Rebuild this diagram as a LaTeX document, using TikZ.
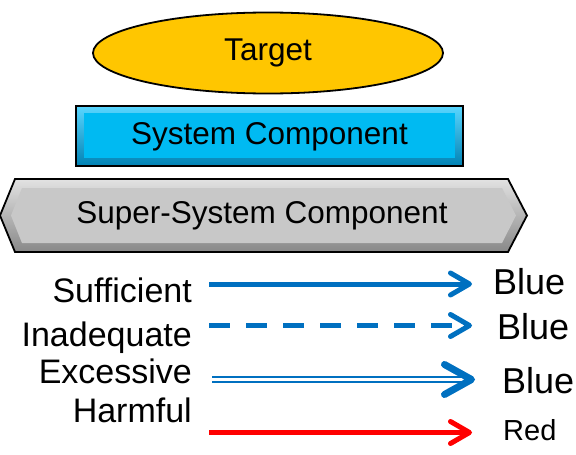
\documentclass[tikz,border=0pt]{standalone}
\usepackage{fontspec}
\setmainfont{Liberation Sans}
\usepackage{xcolor}
\usepackage{tikz}
\usetikzlibrary{arrows.meta,positioning,shapes.geometric,calc}
\definecolor{tgold}{HTML}{FFC600}
\definecolor{tgolddk}{HTML}{C98A00}
\definecolor{scyan}{HTML}{00BAF2}
\definecolor{scyanlt}{HTML}{5AD6FF}
\definecolor{scyandk}{HTML}{0082B4}
\definecolor{ssgray}{HTML}{C8C8C8}
\definecolor{ssgraylt}{HTML}{E2E2E2}
\definecolor{ssgraydk}{HTML}{888888}
\definecolor{fblue}{HTML}{0070C0}
\definecolor{fred}{HTML}{FF0000}
\pgfdeclareradialshading{goldglow}{\pgfpoint{0bp}{0bp}}{color(0bp)=(tgold); color(36bp)=(tgold); color(50bp)=(tgolddk)}

\begin{document}
\begin{tikzpicture}[
  x=1pt, y=-1pt,
  comp/.style={font=\fontsize{31.5}{36}\selectfont,inner sep=0pt},
  lgd/.style={font=\fontsize{34}{38}\selectfont,anchor=base east,inner sep=0pt},
  clr/.style={font=\fontsize{36}{40}\selectfont,anchor=base west,inner sep=0pt},
  flow/.style={draw=fblue,line width=5pt,
               -{Straight Barb[length=19pt,width=22pt,round]}},
  harm/.style={flow,draw=fred},
  over/.style={draw=fblue,line width=2.5pt,double=white,double distance=2.5pt,
               -{Straight Barb[length=27pt,width=30pt,line width=7pt,round]}}
]
\useasboundingbox (0,0) rectangle (576,455);

% target
\node[ellipse,draw=black,line width=1.8pt,shading=goldglow,
      minimum width=350pt,minimum height=81pt,comp] (tgt) at (268,53) {Target};

% system component, bevelled box
\shade[top color=scyanlt,middle color=scyan,bottom color=scyandk]
  (76,106) rectangle (463,166);
\fill[scyan] (84,113) rectangle (455,158);
\draw[line width=1.8pt] (76,106) rectangle (463,166);
\node[comp] (sys) at (269.5,136.5) {System Component};

% super-system component, bevelled hexagon
\shade[top color=ssgraylt,middle color=ssgray,bottom color=ssgraydk]
  (0,215.5) -- (15,179) -- (508,179) -- (527,215.5) -- (508,252) -- (15,252) -- cycle;
\fill[ssgray]
  (11,215.5) -- (22,188) -- (502,188) -- (516,215.5) -- (502,243) -- (22,243) -- cycle;
\draw[line width=1.8pt,line join=miter]
  (0,215.5) -- (15,179) -- (508,179) -- (527,215.5) -- (508,252) -- (15,252) -- cycle;
\node[comp] (ssys) at (262,216) {Super-System Component};

% legend
\node[lgd] (suf) at (192,302) {Sufficient};
\node[lgd] (ina) at (192,346) {Inadequate};
\node[lgd] (exc) at (192,383) {Excessive};
\node[lgd] (hrm) at (192,422) {Harmful};

\coordinate (s1) at (209,284);   \coordinate (e1) at (472,284);
\coordinate (s2) at (209,325.5); \coordinate (e2) at (472,325.5);
\coordinate (s3) at (212,379.5); \coordinate (e3) at (475,379.5);
\coordinate (s4) at (209,432.5); \coordinate (e4) at (472,432.5);

\draw[flow] (s1) -- (e1);
\draw[flow,dash pattern=on 21pt off 16pt] (s2) -- (e2);
\draw[over] (s3) -- (e3);
\draw[harm] (s4) -- (e4);

\node[clr] (b1) at (493,294) {Blue};
\node[clr] (b2) at (497,339) {Blue};
\node[clr] (b3) at (502,393) {Blue};
\node[clr,font=\fontsize{29}{34}\selectfont] (r1) at (503,440) {Red};
\end{tikzpicture}
\end{document}
